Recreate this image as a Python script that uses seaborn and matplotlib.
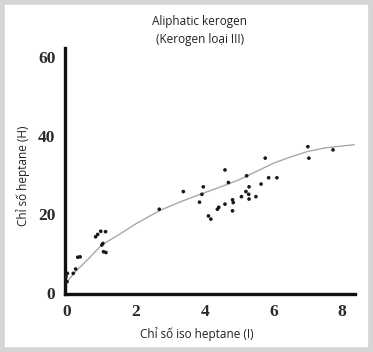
import matplotlib
matplotlib.use("Agg")
import matplotlib.pyplot as plt
import seaborn as sns
import pandas as pd
from matplotlib.patches import Rectangle

# Scatter data: iso-heptane index (I) vs heptane index (H)
iso_heptane = [0.0, -0.03, 0.01, 0.18, 0.25, 0.31, 0.38, 0.83, 0.89, 0.98, 1.12,
               1.01, 1.04, 1.06, 1.13, 2.68, 3.38, 3.85, 3.92, 3.96, 4.11, 4.18,
               4.37, 4.41, 4.59, 4.59, 4.69, 4.81, 4.81, 4.83, 5.07, 5.20, 5.22,
               5.28, 5.29, 5.29, 5.49, 5.64, 5.76, 5.86, 6.10, 7.00, 7.03, 7.73]
heptane = [2.9, 4.2, 5.0, 5.0, 6.1, 9.1, 9.2, 14.3, 14.9, 15.7, 15.6,
           12.2, 12.6, 10.5, 10.3, 21.3, 25.8, 23.1, 25.1, 27.0, 19.6, 18.8,
           21.3, 21.8, 22.6, 31.3, 28.1, 23.7, 20.9, 23.0, 24.5, 25.8, 29.8,
           25.1, 27.0, 23.9, 24.5, 27.7, 34.3, 29.3, 29.3, 37.2, 34.3, 36.4]

# Trend curve
trend_x = [0.0, 0.25, 0.6, 1.0, 1.5, 2.0, 2.7, 3.3, 3.9, 4.5, 5.0, 5.5, 6.0, 6.5, 7.0, 7.5, 8.0, 8.35]
trend_y = [2.9, 5.5, 8.5, 12.2, 14.8, 17.6, 21.0, 23.2, 25.2, 27.1, 28.8, 30.9, 33.0, 34.6, 36.0, 36.9, 37.4, 37.7]

x_ticks = [0, 2, 4, 6, 8]
y_ticks = [0, 20, 40, 60]

title_lines = ["Aliphatic kerogen", "(Kerogen loại III)"]
x_label = "Chỉ số iso heptane (I)"
y_label = "Chỉ số heptane (H)"

sns.set_style("white")
plt.rcParams['font.family'] = ['Open Sans', 'DejaVu Sans']

W, H = 373, 352
fig = plt.figure(figsize=(W / 100, H / 100), dpi=100)
fig.patch.set_facecolor("white")

# light grey frame
fig.patches.append(Rectangle((0, 0), 1, 1, transform=fig.transFigure,
                             facecolor="none", edgecolor="#d6d6d6",
                             linewidth=7, zorder=0))

ax = fig.add_axes([65 / W, 1 - 294 / H, (355 - 65) / W, (294 - 48) / H])
ax.set_facecolor("white")

df = pd.DataFrame({"I": iso_heptane, "H": heptane})
trend = pd.DataFrame({"I": trend_x, "H": trend_y})

sns.lineplot(data=trend, x="I", y="H", ax=ax, color="#a8a8a8", linewidth=1.0,
             sort=False, estimator=None)
sns.scatterplot(data=df, x="I", y="H", ax=ax, color="#1a1a1a", s=7,
                edgecolor="none", zorder=3)

ax.set_xlim(-0.06, 8.37)
ax.set_ylim(-0.25, 62.3)
ax.set_xticks(x_ticks)
ax.set_yticks(y_ticks)
ax.set_xticklabels([str(t) for t in x_ticks], family="Liberation Serif",
                   fontweight="bold", fontsize=12.5, color="#2a2a2a")
ax.set_yticklabels([str(t) for t in y_ticks], family="Liberation Serif",
                   fontweight="bold", fontsize=12.5, color="#2a2a2a")
ax.tick_params(axis="both", length=0, pad=7)

for s in ["top", "right"]:
    ax.spines[s].set_visible(False)
for s in ["left", "bottom"]:
    ax.spines[s].set_linewidth(2.4)
    ax.spines[s].set_color("#111111")

ax.set_xlabel(x_label, fontsize=8.5, color="#222222")
ax.set_ylabel(y_label, fontsize=8.5, color="#222222")
ax.xaxis.set_label_coords((197 - 65) / (355 - 65), -(334 - 294) / (294 - 48), transform=ax.transAxes)
ax.yaxis.set_label_coords(-(65 - 23) / (355 - 65), (294 - 176) / (294 - 48), transform=ax.transAxes)
ax.xaxis.label.set_va("center")
ax.yaxis.label.set_va("center")

fig.text(200 / W, 1 - 22 / H, title_lines[0], ha="center", va="center",
         fontsize=8.5, color="#222222")
fig.text(200 / W, 1 - 40 / H, title_lines[1], ha="center", va="center",
         fontsize=8.5, color="#222222")

fig.savefig("out.png", dpi=100, facecolor="white")
